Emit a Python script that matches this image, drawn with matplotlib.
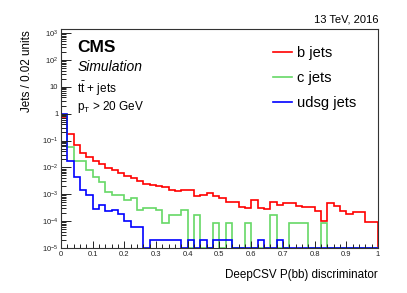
import numpy as np
import matplotlib
matplotlib.use('Agg')
import matplotlib.pyplot as plt

plt.rcParams['font.family'] = ['Liberation Sans', 'DejaVu Sans']
plt.rcParams['mathtext.fontset'] = 'custom'
plt.rcParams['mathtext.rm'] = 'Liberation Sans'
plt.rcParams['mathtext.it'] = 'Liberation Sans:italic'

# Bin edges: 50 bins of 0.02 on [0, 1]
bin_edges = np.linspace(0, 1, 51)

# Normalised jet fractions per bin (0 = empty bin)
b_jets = [0.71, 0.17, 0.071, 0.035, 0.025, 0.0174, 0.0129, 0.0098, 0.0079, 0.0063,
          0.0048, 0.0040, 0.0032, 0.0025, 0.0023, 0.0020, 0.0019, 0.0015, 0.0013, 0.0014,
          0.0014, 0.00085, 0.00091, 0.00107, 0.00089, 0.00072, 0.00050, 0.00050, 0.00035, 0.00031,
          0.00060, 0.00031, 0.00028, 0.00051, 0.00041, 0.00048, 0.00047, 0.00037, 0.00034, 0.00035,
          0.00023, 0.000098, 0.00048, 0.00037, 0.00023, 0.00019, 0.00022, 0.00022, 0.000091, 0.000091]

c_jets = [0.83, 0.055, 0.0174, 0.0174, 0.0079, 0.0045, 0.0028, 0.0012, 0.00093, 0.00093,
          0.0006, 0.0007, 0.00026, 0.00032, 0.00032, 0.00027, 0.000082, 0.000170, 0.000170, 0.00025,
          0, 0.000170, 0, 0, 0.000085, 0, 0.000085, 0, 0, 0.000085,
          0, 0, 0, 0.000165, 0, 0, 0.000085, 0.000085, 0.000085, 0,
          0, 0.000085, 0, 0, 0, 0, 0, 0, 0, 0]

udsg_jets = [0.97, 0.017, 0.0045, 0.0014, 0.00093, 0.00029, 0.00040, 0.00023, 0.00025, 0.00018,
             0.0001, 0.000058, 0.000058, 0, 0.00002, 0.00002, 0.00002, 0.00002, 0.00002, 0,
             0.00002, 0, 0.00002, 0, 0.00002, 0.00002, 0.00002, 0, 0, 0,
             0, 0.00002, 0, 0, 0.00002, 0, 0, 0, 0, 0,
             0, 0, 0, 0, 0, 0, 0, 0, 0, 0]

y_min, y_max = 1e-5, 10 ** 3.15

x_ticks = [0, 0.1, 0.2, 0.3, 0.4, 0.5, 0.6, 0.7, 0.8, 0.9, 1.0]
x_tick_labels = ['0', '0.1', '0.2', '0.3', '0.4', '0.5', '0.6', '0.7', '0.8', '0.9', '1']
y_ticks = [1e-5, 1e-4, 1e-3, 1e-2, 1e-1, 1, 10, 1e2, 1e3]
y_tick_labels = ['$10^{-5}$', '$10^{-4}$', '$10^{-3}$', '$10^{-2}$', '$10^{-1}$',
                 '1', '10', '$10^{2}$', '$10^{3}$']

fig = plt.figure(figsize=(4.07, 2.93), dpi=100)
ax = fig.add_axes([61 / 407, 1 - 248 / 293, 317 / 407, 219 / 293])
ax.set_yscale('log')

series = [(b_jets, '#ff0000', 'b jets'),
          (c_jets, '#66d866', 'c jets'),
          (udsg_jets, '#0000ff', 'udsg jets')]
for vals, col, lab in series:
    v = np.array(vals, dtype=float)
    v[v <= 0] = y_min   # empty bins sit on the floor, as in ROOT
    ax.stairs(v, bin_edges, baseline=y_min, color=col, lw=1.2, label=lab)

ax.set_xlim(0, 1)
ax.set_ylim(y_min, y_max)

ax.set_xticks(x_ticks, x_tick_labels)
ax.set_xticks(np.arange(0, 1.001, 0.02), minor=True)
ax.set_yticks(y_ticks, y_tick_labels)
minor_y = [m * 10.0 ** e for e in range(-5, 4) for m in range(2, 10)]
minor_y = [m for m in minor_y if m < y_max]
ax.set_yticks(minor_y, minor=True)
ax.set_yticklabels([], minor=True)
ax.set_ylim(y_min, y_max)

ax.tick_params(which='both', direction='in', top=False, right=False,
               labelsize=5.5, width=0.7, colors='#222222')
ax.tick_params(axis='y', which='major', length=7, pad=2)
ax.tick_params(axis='y', which='minor', length=3.5)
ax.tick_params(axis='x', which='major', length=5, pad=2.5)
ax.tick_params(axis='x', which='minor', length=2.8)
for s in ax.spines.values():
    s.set_linewidth(0.8)
    s.set_color('#333333')

# Axis titles and CMS labels
fig.text(378 / 407, 1 - 278 / 293, 'DeepCSV P(bb) discriminator', ha='right',
         va='baseline', fontsize=8.4)
fig.text(27 / 407, 1 - 30 / 293, 'Jets / 0.02 units', rotation=90, ha='center',
         va='top', fontsize=8.4, zorder=-1)
fig.text(378 / 407, 1 - 23 / 293, '13 TeV, 2016', ha='right', va='baseline', fontsize=8)
ax.text(0.051, 1 - 23 / 219, 'CMS', transform=ax.transAxes, ha='left', va='baseline',
        fontsize=12.5, fontweight='bold')
ax.text(0.051, 1 - 42 / 219, 'Simulation', transform=ax.transAxes, ha='left',
        va='baseline', fontsize=10, fontstyle='italic')
ax.text(0.051, 1 - 64 / 219, r'$\mathrm{t\bar{t}}$ + jets', transform=ax.transAxes,
        ha='left', va='baseline', fontsize=8.5)
ax.text(0.051, 1 - 81 / 219, r'p$_\mathrm{T}$ > 20 GeV', transform=ax.transAxes,
        ha='left', va='baseline', fontsize=8.5)

ax.legend(loc='upper left', bbox_to_anchor=(0.645, 0.955), frameon=False,
          fontsize=10.5, handlelength=1.3, handletextpad=0.35,
          labelspacing=0.75, borderpad=0)

fig.canvas.draw()
fig.savefig('out.png', dpi=100)
